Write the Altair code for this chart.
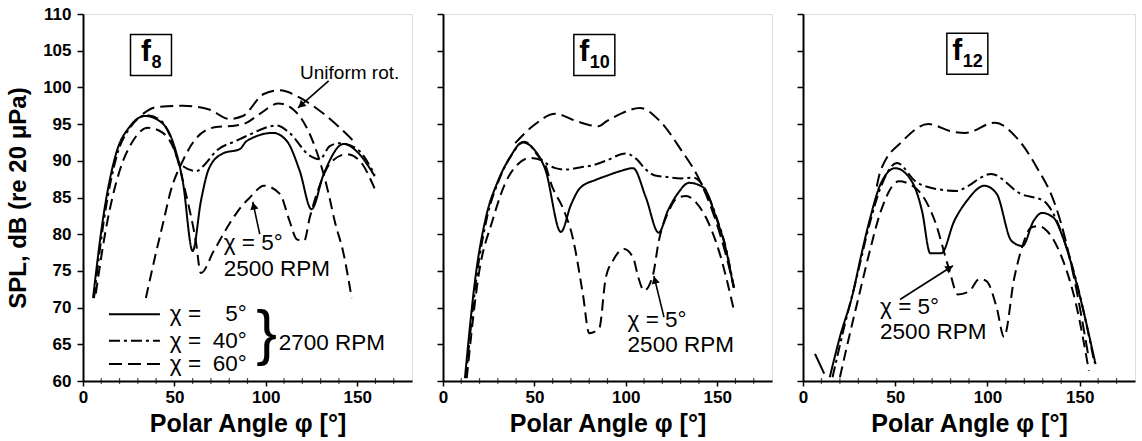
import math
import altair as alt
import pandas as pd

# ---------------- data ----------------
# f8 panel
F8_S5_PHI = [5.5, 11, 18, 25.7, 34, 42, 49, 54.6, 60, 64.5, 69, 76.5, 85.8, 89.6, 104, 111.5, 118.6, 125, 131.7, 142.6, 149.7, 159.6]
F8_S5_SPL = [71.3, 82.2, 90.9, 94.7, 96.1, 95.4, 92.7, 87.2, 77.7, 84.5, 89.0, 91.0, 91.6, 92.7, 93.8, 92.7, 88.6, 83.4, 88.2, 92.3, 91.3, 87.9]
F8_S40_PHI = [6, 11.5, 18.5, 26, 34.5, 42, 48, 53, 62, 67, 72.7, 83.6, 89.6, 106, 113, 124, 129.5, 135, 140.4, 150, 159.6]
F8_S40_SPL = [71.3, 82.0, 90.7, 94.6, 96.2, 95.6, 93.2, 89.6, 88.6, 89.6, 91.3, 92.7, 93.4, 94.8, 93.8, 90.7, 90.2, 92.0, 92.4, 91.6, 88.1]
F8_S60_PHI = [32.8, 40, 54.6, 69, 80, 87.4, 98.9, 107.7, 118.6, 131.7, 148]
F8_S60_SPL = [96.4, 97.3, 97.5, 97.0, 95.7, 96.1, 99.1, 99.6, 98.6, 96.4, 92.7]
F8_R2500_PHI = [7, 12.6, 20, 27.3, 35.5, 43.7, 50.8, 56.3, 61.7, 64.5, 71.5, 80.3, 87.4, 91.3, 99, 107.7, 113, 117, 121, 124, 129, 135, 144.3, 151.4, 159.6]
F8_R2500_SPL = [71.9, 80.8, 88.6, 92.7, 94.5, 93.8, 90.9, 85.5, 79.1, 74.7, 77.7, 81.5, 84.0, 85.0, 86.6, 85.5, 81.8, 79.3, 79.1, 82.2, 86.3, 89.6, 90.9, 90.0, 86.2]
F8_UNI_PHI = [34.4, 39.3, 43.7, 48, 54.6, 61.7, 72.7, 83.6, 89.6, 96.7, 107, 115, 122.4, 129.5, 134.4, 137.7, 142.6, 147]
F8_UNI_SPL = [71.3, 76.8, 81.4, 85.9, 90.0, 93.0, 94.6, 94.8, 95.2, 96.4, 97.8, 97.0, 94.5, 90.0, 85.5, 81.8, 77.3, 71.3]

# f10 panel
F10_S5_PHI = [12, 18, 23.5, 30, 36.5, 43.5, 50, 56, 64.5, 70, 75, 83.5, 90, 97, 104, 111, 118, 123, 128.6, 134.6, 142.3, 149.5, 155, 159]
F10_S5_SPL = [60.4, 74.6, 82.3, 87.2, 90.4, 92.5, 91.5, 88.8, 80.3, 84.0, 86.3, 87.4, 88.0, 88.6, 89.0, 85.0, 80.2, 83.2, 85.6, 87.0, 86.4, 82.2, 77.7, 72.7]
F10_S40_PHI = [12.5, 18.5, 24, 30.5, 37, 44.5, 54.5, 61.5, 67, 75, 82, 89, 100, 106, 111, 116, 122.5, 130, 137, 142.3, 149.5, 155, 159]
F10_S40_SPL = [60.4, 74.4, 82.2, 87.3, 90.6, 92.6, 90.0, 89.0, 88.8, 89.1, 89.4, 90.0, 91.0, 90.2, 88.8, 88.0, 87.8, 87.6, 87.7, 86.6, 82.4, 77.9, 72.9]
F10_S60_PHI = [39.5, 49, 61.5, 73, 85, 89.6, 98, 107.7, 118.7, 129.7, 140.7, 146, 153.8, 159.3]
F10_S60_SPL = [92.4, 94.7, 96.4, 95.4, 94.7, 95.4, 96.5, 97.2, 95.4, 91.7, 87.2, 84.1, 78.1, 72.7]
F10_R2500_PHI = [13, 19.6, 27, 36, 48, 54.5, 60, 65.5, 71, 76.5, 80, 85.5, 89, 93, 99, 104, 107, 110, 115, 118, 123.6, 128.6, 133, 138.5, 144, 151, 159.3]
F10_R2500_SPL = [60.4, 74.6, 81.8, 87.9, 90.4, 90.0, 86.3, 83.6, 79.5, 71.9, 66.5, 67.2, 74.0, 76.4, 78.0, 76.8, 74.0, 72.3, 74.6, 79.0, 83.2, 85.0, 85.2, 84.3, 82.2, 77.7, 69.5]

# f12 panel
F12_S5_PHI = [14.5, 20, 27, 31, 36, 42, 50, 59, 64.5, 69, 75, 82, 88.7, 98.4, 105, 113, 119, 125, 129.6, 136, 141, 148, 158.6]
F12_S5_SPL = [60.5, 66.0, 71.9, 76.5, 81.8, 86.8, 89.0, 87.2, 83.2, 77.4, 77.4, 81.8, 84.5, 86.6, 85.5, 79.1, 78.4, 81.8, 82.9, 82.2, 79.5, 73.6, 62.3]
F12_S40_PHI = [16, 22, 29, 36, 42, 51, 61, 71.5, 84, 87.6, 102, 118, 130.6, 137.6, 141, 148, 158]
F12_S40_SPL = [60.5, 67.0, 74.0, 81.3, 86.3, 89.7, 87.2, 86.2, 85.9, 86.3, 88.2, 85.5, 84.5, 81.8, 79.6, 73.8, 62.5]
F12_S60_PHI = [40, 42, 54, 68, 80.6, 88, 104, 116, 127, 136, 140, 147, 155]
F12_S60_SPL = [86.5, 88.6, 92.7, 95.0, 94.0, 93.8, 95.2, 93.1, 89.0, 84.5, 81.4, 74.0, 63.0]
F12_R2500_PHI = [20, 25, 30.6, 36, 42, 52, 61, 71.5, 79, 84, 90, 95.7, 99.5, 105, 109, 114.5, 119, 123.6, 128, 132, 141, 148, 155]
F12_R2500_SPL = [60.5, 66.0, 71.9, 77.5, 83.0, 87.2, 86.3, 81.8, 75.4, 71.8, 72.2, 73.9, 73.6, 70.0, 66.0, 74.0, 78.4, 80.9, 81.1, 80.5, 76.4, 70.5, 61.4]
F12_STRAY_PHI = [6.5, 11.5]
F12_STRAY_SPL = [63.7, 61.0]

PANEL_NAMES = ["8", "10", "12"]
LEGEND_LABELS = ["5°", "40°", "60°"]
LEGEND_SERIES = ["s5", "s40", "s60"]
MINOR_TICKS = [10, 20, 30, 40, 60, 70, 80, 90, 110, 120, 130, 140, 160, 170]

# ---------------- layout / style ----------------
FONT = "Liberation Sans"
X_DOMAIN = [0, 180]
Y_DOMAIN = [60, 110]
PANEL_W = [329, 329, 332]
PANEL_H = 367
ANNO_SIZE = 22.5
DASHES = {"s5": [1, 0], "s40": [11, 4, 3, 4], "s60": [13, 6], "r2500": [11, 6], "uni": [11, 6]}

# annotation positions (data units)
BOX_POS = [(37.2, 104.4), (82.8, 104.4), (89.1, 104.6)]
ARROWS = [
    [(134.4, 100.9, 117.6, 97.2), (96.7, 80.0, 92.9, 84.4)],
    [(120.9, 68.7, 115.4, 74.3)],
    [(52.6, 71.1, 81.3, 75.7)],
]
RPM_TEXT_POS = [(77.0, 78.8, 75.3), (101.0, 68.3, 64.9), (41.8, 70.1, 66.7)]
LEGEND_Y = [69.1, 65.5, 62.3]


def build_df(pairs):
    rows = []
    for name, phis, spls in pairs:
        for k, (p, s) in enumerate(zip(phis, spls)):
            rows.append({"series": name, "phi": p, "spl": s, "idx": k})
    return pd.DataFrame(rows)


SERIES = [
    build_df([("s5", F8_S5_PHI, F8_S5_SPL), ("s40", F8_S40_PHI, F8_S40_SPL), ("s60", F8_S60_PHI, F8_S60_SPL),
              ("r2500", F8_R2500_PHI, F8_R2500_SPL), ("uni", F8_UNI_PHI, F8_UNI_SPL)]),
    build_df([("s5", F10_S5_PHI, F10_S5_SPL), ("s40", F10_S40_PHI, F10_S40_SPL), ("s60", F10_S60_PHI, F10_S60_SPL),
              ("r2500", F10_R2500_PHI, F10_R2500_SPL)]),
    build_df([("s5", F12_S5_PHI, F12_S5_SPL), ("s40", F12_S40_PHI, F12_S40_SPL), ("s60", F12_S60_PHI, F12_S60_SPL),
              ("r2500", F12_R2500_PHI, F12_R2500_SPL), ("stray", F12_STRAY_PHI, F12_STRAY_SPL)]),
]
DASHES_ALL = dict(DASHES, stray=[1, 0])
DASH_SCALE = alt.Scale(domain=list(DASHES_ALL.keys()), range=list(DASHES_ALL.values()))


def x_enc(field="phi"):
    return alt.X(f"{field}:Q", scale=alt.Scale(domain=X_DOMAIN, nice=False, zero=False),
                 axis=alt.Axis(values=[0, 50, 100, 150], title="Polar Angle φ [°]", grid=False,
                               labelFont=FONT, labelFontSize=17, labelFontWeight="bold", labelColor="black",
                               titleFont=FONT, titleFontSize=25, titleFontWeight="bold", titleColor="black",
                               tickSize=5, tickWidth=1.5, tickColor="black", labelPadding=3, titlePadding=6,
                               domainColor="black", domainWidth=2, labelFlush=False, labelOverlap=False))


def y_enc(i, field="spl"):
    common = dict(values=list(range(60, 111, 5)), grid=False, tickSize=6, tickWidth=1.5, tickColor="black",
                  domainColor="black", domainWidth=2, labelFlush=False, labelOverlap=False)
    if i == 0:
        ax = alt.Axis(title="SPL, dB (re 20 μPa)", labelFont=FONT, labelFontSize=17, labelFontWeight="bold",
                      labelColor="black", labelPadding=6, titleFont=FONT, titleFontSize=24,
                      titleFontWeight="bold", titleColor="black", titlePadding=12, **common)
    else:
        ax = alt.Axis(title=None, labels=False, **common)
    return alt.Y(f"{field}:Q", scale=alt.Scale(domain=Y_DOMAIN, nice=False, zero=False), axis=ax)


def arrow_layers(i):
    w = PANEL_W[i]
    sx = w / (X_DOMAIN[1] - X_DOMAIN[0])
    sy = PANEL_H / (Y_DOMAIN[1] - Y_DOMAIN[0])
    shafts, heads = [], []
    for (x1, y1, x2, y2) in ARROWS[i]:
        dx = (x2 - x1) * sx
        dy = -(y2 - y1) * sy
        L = math.hypot(dx, dy)
        ang = math.degrees(math.atan2(dx, -dy)) % 360
        back = 4.0
        hx = x2 - (dx / L) * back / sx
        hy = y2 + (dy / L) * back / sy
        shafts.append({"phi": x1, "spl": y1, "phi2": x2, "spl2": y2})
        heads.append({"phi": hx, "spl": hy, "ang": ang})
    shaft = alt.Chart(pd.DataFrame(shafts)).mark_rule(color="black", strokeWidth=1.6).encode(
        x=x_enc(), y=y_enc(i), x2="phi2:Q", y2="spl2:Q")
    head = alt.Chart(pd.DataFrame(heads)).mark_point(shape="triangle-up", filled=True, color="black",
                                                      opacity=1, size=70).encode(
        x=x_enc(), y=y_enc(i), angle=alt.Angle("ang:Q", scale=None))
    return [shaft, head]


def text_layer(i, df, **kw):
    props = dict(font=FONT, color="black", baseline="middle")
    props.update(kw)
    return alt.Chart(df).mark_text(**props).encode(x=x_enc(), y=y_enc(i), text="t:N")


def panel(i):
    w = PANEL_W[i]
    lines = alt.Chart(SERIES[i]).mark_line(color="black", strokeWidth=2, interpolate="monotone", clip=True).encode(
        x=x_enc(), y=y_enc(i),
        strokeDash=alt.StrokeDash("series:N", scale=DASH_SCALE, legend=None),
        detail="series:N", order="idx:Q")

    minor = alt.Chart(pd.DataFrame({"phi": MINOR_TICKS})).mark_tick(
        color="black", orient="vertical", size=6, thickness=1.2).encode(
        x=x_enc(), y=alt.value(PANEL_H))

    bx, by = BOX_POS[i]
    box = alt.Chart(pd.DataFrame([{"phi": bx, "spl": by}])).mark_point(
        shape="square", size=1680, filled=False, stroke="black", strokeWidth=1.5, opacity=1).encode(
        x=x_enc(), y=y_enc(i))
    sub = PANEL_NAMES[i]
    wf, ws = 10.0, 0.556 * 18 * len(sub)
    off = (wf - ws) / 2
    f_txt = text_layer(i, pd.DataFrame([{"phi": bx, "spl": by, "t": "f"}]), fontSize=30, fontWeight="bold",
                       align="right", dx=off, dy=-3)
    s_txt = text_layer(i, pd.DataFrame([{"phi": bx, "spl": by, "t": sub}]), fontSize=18, fontWeight="bold",
                       align="left", dx=off + 0.5, dy=8)

    tx, ty1, ty2 = RPM_TEXT_POS[i]
    rpm = text_layer(i, pd.DataFrame([{"phi": tx, "spl": ty1, "t": "χ = 5°"},
                                      {"phi": tx, "spl": ty2, "t": "2500 RPM"}]), fontSize=ANNO_SIZE, align="left")
    layers = [lines, minor, box, f_txt, s_txt, rpm] + arrow_layers(i)

    if i == 0:
        leg = pd.DataFrame([{"phi": 14.2, "phi2": 42.1, "spl": yy, "series": s}
                            for yy, s in zip(LEGEND_Y, LEGEND_SERIES)])
        leg_lines = alt.Chart(leg).mark_rule(color="black", strokeWidth=2).encode(
            x=x_enc(), x2="phi2:Q", y=y_enc(i),
            strokeDash=alt.StrokeDash("series:N", scale=DASH_SCALE, legend=None))
        chi = text_layer(i, pd.DataFrame([{"phi": 47.5, "spl": yy, "t": "χ ="} for yy in LEGEND_Y]),
                         fontSize=ANNO_SIZE, align="left")
        nums = text_layer(i, pd.DataFrame([{"phi": 89.6, "spl": yy, "t": t}
                                           for yy, t in zip(LEGEND_Y, LEGEND_LABELS)]),
                          fontSize=ANNO_SIZE, align="right")
        brace = text_layer(i, pd.DataFrame([{"phi": 100.5, "spl": 66.4, "t": "}"}]), fontSize=62, align="center")
        rpm27 = text_layer(i, pd.DataFrame([{"phi": 107.1, "spl": 65.2, "t": "2700 RPM"}]), fontSize=ANNO_SIZE,
                           align="left")
        uni = text_layer(i, pd.DataFrame([{"phi": 145.9, "spl": 102.0, "t": "Uniform rot."}]), fontSize=19,
                         align="center")
        layers += [leg_lines, chi, nums, brace, rpm27, uni]

    return alt.layer(*layers).properties(width=w, height=PANEL_H)


chart = alt.hconcat(panel(0), panel(1), panel(2), spacing=22).properties(
    padding={"left": 6, "top": 4, "right": 2, "bottom": 2}
).configure_view(stroke="black", strokeWidth=1.5).configure(background="white")

chart.save("out.html", embed_options={"renderer": "svg", "actions": False})
